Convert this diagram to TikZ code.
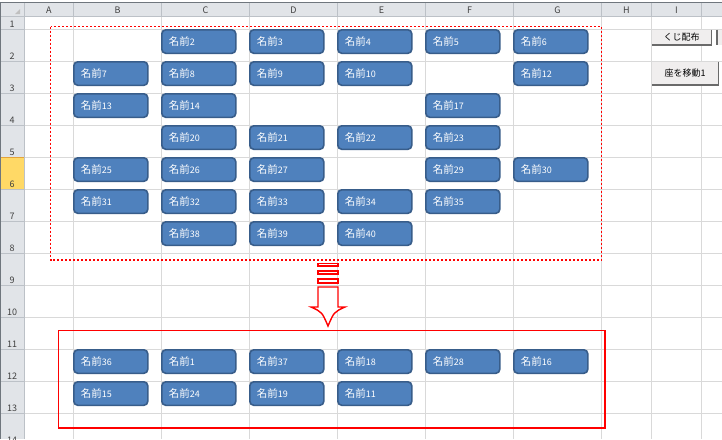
\documentclass[tikz,border=0pt]{standalone}
\usepackage{fontspec}
\setmainfont{Noto Sans CJK JP}
\definecolor{seatfill}{HTML}{4F81BD}
\definecolor{seatline}{HTML}{385D8A}
\definecolor{gridgray}{HTML}{D9D9D9}
\definecolor{headfill}{HTML}{E1E4E8}
\definecolor{headline}{HTML}{BCC1C7}
\definecolor{edgegray}{HTML}{6F767D}
\definecolor{rowsel}{HTML}{FFD966}
\definecolor{rowselline}{HTML}{E3A33A}
\definecolor{btnfill}{HTML}{F0EEEE}
\definecolor{btnshade}{HTML}{6A6A6A}
\definecolor{marker}{HTML}{FF0000}
\newcommand{\seatname}[1]{{\fontsize{10.5}{12}\selectfont 名前}{\fontsize{9}{10}\selectfont #1}}
\tikzset{
	seat/.style={draw=seatline, fill=seatfill, line width=1.6pt, rounded corners=4pt,
		anchor=north west, text=white, text width=60pt, align=left,
		inner xsep=7pt, inner ysep=0pt, minimum height=23.5pt},
	gridline/.style={gridgray, line width=1pt},
	headsep/.style={headline, line width=1pt},
	colhead/.style={text=black!75, font=\fontsize{9}{10}\selectfont, inner sep=0pt},
	rowhead/.style={text=black!75, font=\fontsize{9}{10}\selectfont, inner sep=0pt},
	button/.style={fill=btnfill, anchor=north west, inner sep=0pt,
		font=\fontsize{9}{10}\selectfont},
	btnedge/.style={btnshade, line width=1.5pt},
	arrowline/.style={draw=marker, fill=white, line width=1.4pt},
}
\begin{document}
\begin{tikzpicture}[x=1pt, y=-1pt]
	\useasboundingbox (0,0) rectangle (722,439);
	\begin{scope}
	\clip (0,0) rectangle (722,439);
	\fill [white] (0,0) rectangle (722,439);
	% sheet grid
	\foreach \x in {73.5,161.5,249.5,337.5,425.5,513.5,601.5,651.5,701.5}
		\draw [gridline] (\x,16) -- (\x,439);
	\foreach \y in {29.5,61.5,...,413.5}
		\draw [gridline] (24,\y) -- (722,\y);
	% headers
	\fill [headfill] (0,3) rectangle (722,16.5);
	\fill [headfill] (0,3) rectangle (24,439);
	\draw [rowselline, fill=rowsel, line width=1pt] (0,157.5) rectangle (24,189.5);
	\foreach \x in {24,73.5,161.5,249.5,337.5,425.5,513.5,601.5,651.5,701.5}
		\draw [headsep] (\x,3) -- (\x,16.5);
	\foreach \y in {29.5,61.5,...,125.5,189.5,221.5,...,413.5}
		\draw [headsep] (0,\y) -- (24,\y);
	\draw [headsep] (0,16.5) -- (722,16.5);
	\draw [headsep] (24,3) -- (24,439);
	\fill [black!25] (20,9) -- (20,14) -- (15,14) -- cycle;
	\draw [edgegray, line width=1pt] (0,2.5) -- (722,2.5);
	\draw [edgegray, line width=1.5pt] (0.5,2.5) -- (0.5,439);
	\foreach \c/\x in {A/48.75, B/117.5, C/205.5, D/293.5, E/381.5, F/469.5, G/557.5, H/626.5, I/676.5}
		\node [colhead] (col\c) at (\x,10) {\c};
	\foreach \r [evaluate=\r as \ry using 24+32*(\r-1)] in {1,...,14}
		\node [rowhead] (row\r) at (12,\ry) {\r};
	% seats before
	\node [seat] (s2) at (161,29) {\seatname{2}};
	\node [seat] (s3) at (249,29) {\seatname{3}};
	\node [seat] (s4) at (337,29) {\seatname{4}};
	\node [seat] (s5) at (425,29) {\seatname{5}};
	\node [seat] (s6) at (513,29) {\seatname{6}};
	\node [seat] (s7) at (73,61) {\seatname{7}};
	\node [seat] (s8) at (161,61) {\seatname{8}};
	\node [seat] (s9) at (249,61) {\seatname{9}};
	\node [seat] (s10) at (337,61) {\seatname{10}};
	\node [seat] (s12) at (513,61) {\seatname{12}};
	\node [seat] (s13) at (73,93) {\seatname{13}};
	\node [seat] (s14) at (161,93) {\seatname{14}};
	\node [seat] (s17) at (425,93) {\seatname{17}};
	\node [seat] (s20) at (161,125) {\seatname{20}};
	\node [seat] (s21) at (249,125) {\seatname{21}};
	\node [seat] (s22) at (337,125) {\seatname{22}};
	\node [seat] (s23) at (425,125) {\seatname{23}};
	\node [seat] (s25) at (73,157) {\seatname{25}};
	\node [seat] (s26) at (161,157) {\seatname{26}};
	\node [seat] (s27) at (249,157) {\seatname{27}};
	\node [seat] (s29) at (425,157) {\seatname{29}};
	\node [seat] (s30) at (513,157) {\seatname{30}};
	\node [seat] (s31) at (73,189) {\seatname{31}};
	\node [seat] (s32) at (161,189) {\seatname{32}};
	\node [seat] (s33) at (249,189) {\seatname{33}};
	\node [seat] (s34) at (337,189) {\seatname{34}};
	\node [seat] (s35) at (425,189) {\seatname{35}};
	\node [seat] (s38) at (161,221) {\seatname{38}};
	\node [seat] (s39) at (249,221) {\seatname{39}};
	\node [seat] (s40) at (337,221) {\seatname{40}};
	% seats after
	\node [seat] (s36) at (73,349) {\seatname{36}};
	\node [seat] (s1) at (161,349) {\seatname{1}};
	\node [seat] (s37) at (249,349) {\seatname{37}};
	\node [seat] (s18) at (337,349) {\seatname{18}};
	\node [seat] (s28) at (425,349) {\seatname{28}};
	\node [seat] (s16) at (513,349) {\seatname{16}};
	\node [seat] (s15) at (73,381) {\seatname{15}};
	\node [seat] (s24) at (161,381) {\seatname{24}};
	\node [seat] (s19) at (249,381) {\seatname{19}};
	\node [seat] (s11) at (337,381) {\seatname{11}};
	% frames
	\draw [marker, line width=1.5pt, dash pattern=on 2pt off 2pt] (50.5,26.5) rectangle (601.5,260);
	\draw [marker, line width=1.5pt] (58.5,330.5) rectangle (605,428);
	% arrow
	\draw [arrowline] (318,263.5) rectangle (338,266);
	\draw [arrowline] (318,271) rectangle (338,274);
	\draw [arrowline] (318,279) rectangle (338,283);
	\draw [arrowline] (318,287) -- (318,307) -- (311,307) .. controls (322,312) .. (328,326)
		.. controls (334,312) .. (345,307) -- (338,307) -- (338,287) -- cycle;
	% buttons
	\node [button, minimum width=59pt, minimum height=15pt] (kuji) at (652,29.5) {くじ配布};
	\draw [btnedge] (kuji.north east) -- (kuji.south east) -- (kuji.south west);
	\node [button, minimum width=20pt, minimum height=15pt] (extra) at (717,29.5) {};
	\draw [btnedge] (extra.north west) -- (extra.south west);
	\node [button, minimum width=66pt, minimum height=23pt] (move) at (652,61.5) {座を移動1};
	\draw [btnedge] (move.north east) -- (move.south east) -- (move.south west);
	\end{scope}
\end{tikzpicture}
\end{document}
